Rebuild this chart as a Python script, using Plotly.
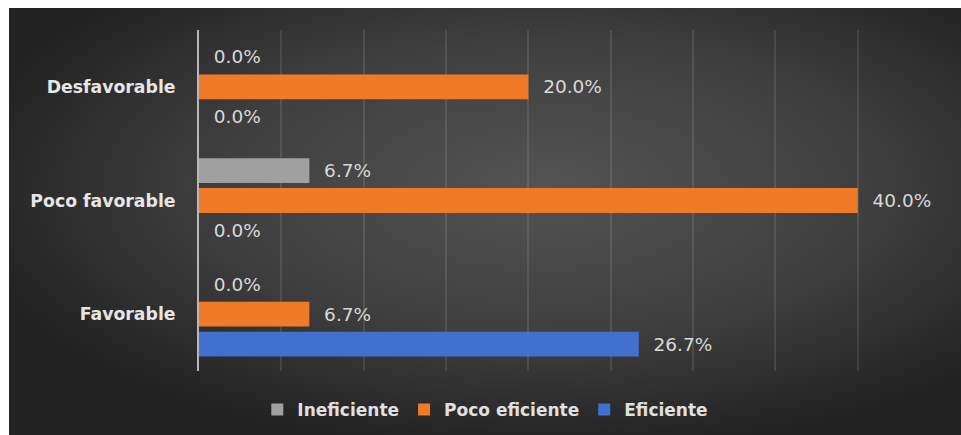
import base64
import plotly.graph_objects as go

categories = ["Favorable", "Poco favorable", "Desfavorable"]
ineficiente = [0.0, 6.7, 0.0]
poco_eficiente = [6.7, 40.0, 20.0]
eficiente = [26.7, 0.0, 0.0]
series_names = ["Ineficiente", "Poco eficiente", "Eficiente"]
series_colors = ["#a0a0a0", "#f07a28", "#4170cf"]

svg = """<svg xmlns='http://www.w3.org/2000/svg' width='952' height='427' viewBox='0 0 952 427' preserveAspectRatio='none'>
<defs><radialGradient id='g' cx='0.56' cy='0.42' r='0.62' fx='0.56' fy='0.42'>
<stop offset='0' stop-color='#535353'/><stop offset='0.55' stop-color='#3f3f3f'/><stop offset='1' stop-color='#222222'/>
</radialGradient></defs>
<rect width='952' height='427' fill='url(#g)'/></svg>"""
bg_src = "data:image/svg+xml;base64," + base64.b64encode(svg.encode()).decode()

fig = go.Figure()
data = {"Ineficiente": ineficiente, "Poco eficiente": poco_eficiente, "Eficiente": eficiente}
# add in reverse so Ineficiente sits at the top of each group
for name, color in reversed(list(zip(series_names, series_colors))):
    vals = data[name]
    fig.add_trace(go.Bar(
        y=categories, x=vals, name=name, orientation="h",
        marker=dict(color=color, line=dict(width=0)),
        text=["\u00a0\u00a0%.1f%%" % v for v in vals],
        textposition="outside", cliponaxis=False,
        textfont=dict(family="DejaVu Sans", size=18.5, color="#d9d9d9"),
        legendrank={"Ineficiente": 1, "Poco eficiente": 2, "Eficiente": 3}[name],
        hoverinfo="skip",
    ))

L, R, T, B = 199, 20, 30, 64
W, H = 961, 435
pw, ph = W - L - R, H - T - B
fig.add_layout_image(dict(
    source=bg_src, xref="paper", yref="paper",
    x=(9 - L) / pw, y=(H - B - 8) / ph,
    sizex=(W - 9) / pw, sizey=(H - 8) / ph,
    xanchor="left", yanchor="top", sizing="stretch", layer="below",
))

fig.update_layout(
    width=W, height=H,
    margin=dict(l=L, r=R, t=T, b=B),
    paper_bgcolor="white", plot_bgcolor="rgba(0,0,0,0)",
    barmode="group", bargap=0.21, bargroupgap=0.17,
    showlegend=True,
    legend=dict(orientation="h", xref="container", yref="container",
                x=0.505, y=1 - 410 / 435, xanchor="center", yanchor="middle",
                font=dict(family="DejaVu Sans", size=17, color="#e0e0e0", weight="bold"),
                bgcolor="rgba(0,0,0,0)", traceorder="normal"),
    xaxis=dict(range=[0, 45.05], tickvals=[5, 10, 15, 20, 25, 30, 35, 40, 45],
               showticklabels=False, showgrid=True,
               gridcolor="rgba(255,255,255,0.10)", gridwidth=1.5, zeroline=False,
               showline=False, fixedrange=True),
    yaxis=dict(categoryorder="array", categoryarray=categories,
               showline=True, linecolor="#b8b8b8", linewidth=2,
               showgrid=False, ticks="", ticklabelstandoff=18,
               tickfont=dict(family="DejaVu Sans", size=17.3, color="#e6e6e6", weight="bold"),
               fixedrange=True),
)

fig.write_html("out.html")
